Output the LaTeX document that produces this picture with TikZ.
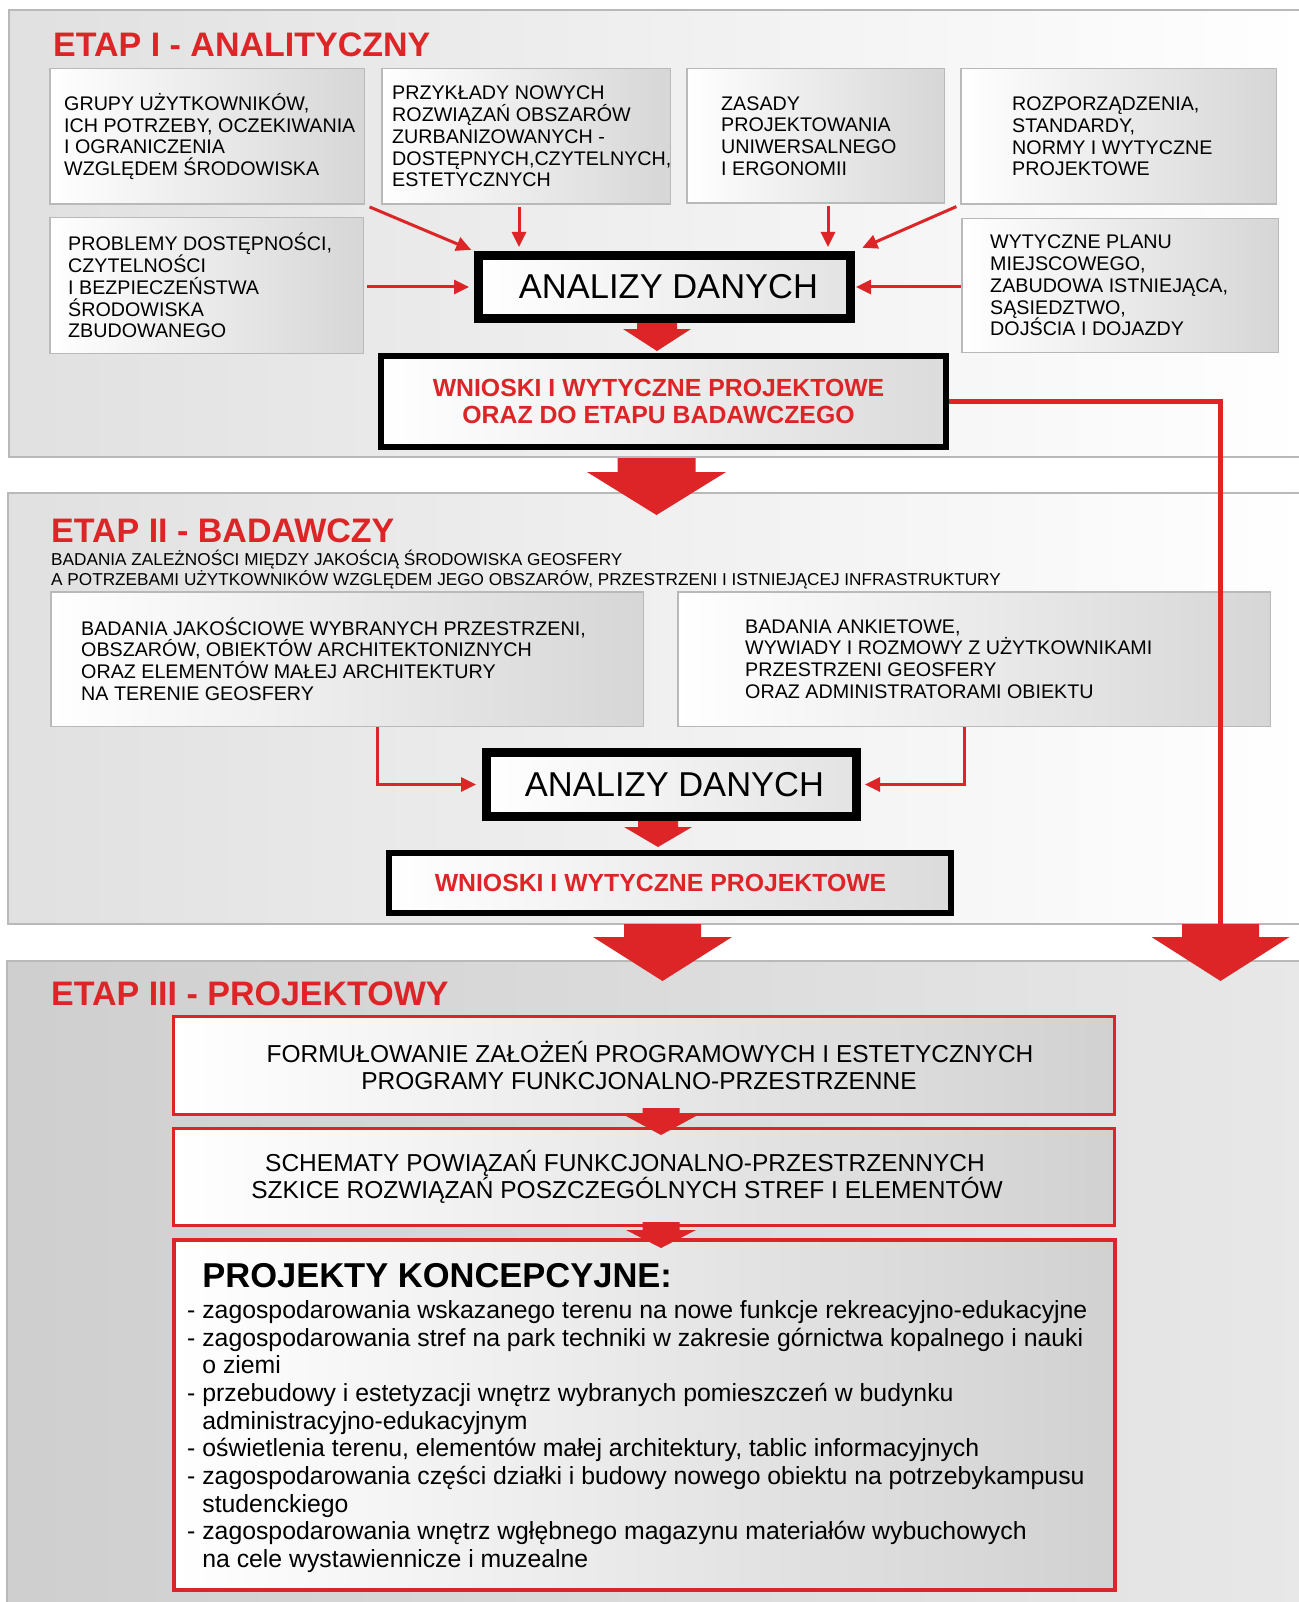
\documentclass[tikz,border=0pt]{standalone}
\usepackage{fontspec}
\setmainfont{Liberation Sans}
\usetikzlibrary{arrows.meta}
\definecolor{czerwien}{RGB}{221,36,38}
% block arrow: top centre, half shaft, half head, shaft length, head length
\newcommand{\grot}[5]{\fill[czerwien] #1 ++(-#2,0) -- ++(0,#4) -- ++(#2-#3,0) -- ++(#3,#5) -- ++(#3,-#5) -- ++(#2-#3,0) -- ++(0,-#4) -- cycle;}

\begin{document}
\begin{tikzpicture}[x=1pt,y=-1pt,
  panel/.style={draw=gray!55,line width=1.5pt,left color=gray!24,right color=white},
  zrodlo/.style={draw=gray!55,line width=1.5pt,left color=white,right color=gray!32,inner sep=0pt},
  opis/.style={anchor=west,align=left,inner sep=0pt,font=\fontsize{19.7}{21.8}\selectfont},
  analiza/.style={draw=black,line width=9pt,left color=white,right color=gray!22,inner sep=0pt,font=\fontsize{34.5}{40}\selectfont},
  wnioski/.style={draw=black,line width=6pt,left color=white,right color=gray!28,inner sep=0pt,text=czerwien,align=center,font=\fontsize{24.8}{27}\selectfont\bfseries},
  etap/.style={anchor=base west,inner sep=0pt,text=czerwien,font=\fontsize{34}{40}\selectfont\bfseries},
  projekt/.style={draw=czerwien,line width=3pt,left color=white,right color=gray!36,inner sep=0pt,align=center,font=\fontsize{24.5}{27}\selectfont},
  strzalka/.style={czerwien,line width=3pt,-{Triangle[length=15pt,width=14pt]}}
]

\useasboundingbox[fill=white] (0,0) rectangle (1298,1602);

\draw[panel] (9,10) rectangle (1310,457);
\draw[panel] (8,493) rectangle (1310,924);
\draw[panel,left color=gray!38,right color=gray!18] (7,961) rectangle (1310,1610);

% ETAP I
\node[etap] (etap1) at (53,57) {ETAP I - ANALITYCZNY};

\node[zrodlo,minimum width=314.5pt,minimum height=135.5pt] (grupy) at (207,136.5) {};
\node[opis] (grupy-t) at ([xshift=15pt]grupy.west) {GRUPY UŻYTKOWNIKÓW,\\ICH POTRZEBY, OCZEKIWANIA\\I OGRANICZENIA\\WZGLĘDEM ŚRODOWISKA};

\node[zrodlo,minimum width=288.5pt,minimum height=135.5pt] (przyklady) at (526,136.5) {};
\node[opis] (przyklady-t) at ([xshift=11pt]przyklady.west) {PRZYKŁADY NOWYCH\\ROZWIĄZAŃ OBSZARÓW\\ZURBANIZOWANYCH -\\DOSTĘPNYCH,CZYTELNYCH,\\ESTETYCZNYCH};

\node[zrodlo,minimum width=257.5pt,minimum height=134.5pt] (zasady) at (815.5,136) {};
\node[opis] (zasady-t) at ([xshift=35pt]zasady.west) {ZASADY\\PROJEKTOWANIA\\UNIWERSALNEGO\\I ERGONOMII};

\node[zrodlo,minimum width=315.5pt,minimum height=135.5pt] (normy) at (1118.5,136.5) {};
\node[opis] (normy-t) at ([xshift=52pt]normy.west) {ROZPORZĄDZENIA,\\STANDARDY,\\NORMY I WYTYCZNE\\PROJEKTOWE};

\node[zrodlo,minimum width=313.5pt,minimum height=135.5pt] (problemy) at (206.5,285.5) {};
\node[opis] (problemy-t) at ([xshift=19pt]problemy.west) {PROBLEMY DOSTĘPNOŚCI,\\CZYTELNOŚCI\\I BEZPIECZEŃSTWA\\ŚRODOWISKA\\ZBUDOWANEGO};

\node[zrodlo,minimum width=316.5pt,minimum height=133.5pt] (plan) at (1120,285.5) {};
\node[opis] (plan-t) at ([xshift=29pt]plan.west) {WYTYCZNE PLANU\\MIEJSCOWEGO,\\ZABUDOWA ISTNIEJĄCA,\\SĄSIEDZTWO,\\DOJŚCIA I DOJAZDY};

\node[analiza,minimum width=372pt,minimum height=63pt] (analiza1) at (664.5,287) {\hspace*{8pt}ANALIZY DANYCH};
\node[wnioski,minimum width=565pt,minimum height=91pt] (wnioski1) at (663.5,401.5) {\hspace*{-10pt}WNIOSKI I WYTYCZNE PROJEKTOWE\\\hspace*{-10pt}ORAZ DO ETAPU BADAWCZEGO};

% ETAP II
\node[etap] (etap2) at (51,542) {ETAP II - BADAWCZY};
\node[anchor=base west,inner sep=0pt,font=\fontsize{17.2}{20}\selectfont] (podtytul1) at (51,565) {BADANIA ZALEŻNOŚCI MIĘDZY JAKOŚCIĄ ŚRODOWISKA GEOSFERY};
\node[anchor=base west,inner sep=0pt,font=\fontsize{17.2}{20}\selectfont] (podtytul2) at (51,585) {A POTRZEBAMI UŻYTKOWNIKÓW WZGLĘDEM JEGO OBSZARÓW, PRZESTRZENI I ISTNIEJĄCEJ INFRASTRUKTURY};

\node[zrodlo,minimum width=592.5pt,minimum height=134.5pt] (jakosc) at (347,659) {};
\node[opis] (jakosc-t) at ([xshift=31pt]jakosc.west) {BADANIA JAKOŚCIOWE WYBRANYCH PRZESTRZENI,\\OBSZARÓW, OBIEKTÓW ARCHITEKTONIZNYCH\\ORAZ ELEMENTÓW MAŁEJ ARCHITEKTURY\\NA TERENIE GEOSFERY};

\node[zrodlo,minimum width=592.5pt,minimum height=134.5pt] (ankiety) at (974,659) {};
\node[opis] (ankiety-t) at ([xshift=68pt]ankiety.west) {BADANIA ANKIETOWE,\\WYWIADY I ROZMOWY Z UŻYTKOWNIKAMI\\PRZESTRZENI GEOSFERY\\ORAZ ADMINISTRATORAMI OBIEKTU};

\node[analiza,minimum width=370pt,minimum height=64pt] (analiza2) at (671.5,784.5) {\hspace*{6pt}ANALIZY DANYCH};
\node[wnioski,minimum width=562pt,minimum height=60pt] (wnioski2) at (670,883) {\hspace*{-19pt}WNIOSKI I WYTYCZNE PROJEKTOWE};

% ETAP III
\node[etap] (etap3) at (51,1005) {ETAP III - PROJEKTOWY};

\node[projekt,minimum width=941pt,minimum height=98pt] (zalozenia) at (644,1065.5) {\hspace*{12pt}FORMUŁOWANIE ZAŁOŻEŃ PROGRAMOWYCH I ESTETYCZNYCH\\\hspace*{-10pt}PROGRAMY FUNKCJONALNO-PRZESTRZENNE};
\node[projekt,minimum width=941pt,minimum height=97pt] (schematy) at (644,1177) {\hspace*{-38pt}SCHEMATY POWIĄZAŃ FUNKCJONALNO-PRZESTRZENNYCH\\\hspace*{-34pt}SZKICE ROZWIĄZAŃ POSZCZEGÓLNYCH STREF I ELEMENTÓW};
\node[projekt,line width=4pt,minimum width=941pt,minimum height=350pt] (koncepcje) at (644.5,1415) {};
\node[anchor=north west,align=left,inner sep=0pt,font=\fontsize{24.8}{27.7}\selectfont] (koncepcje-t) at (187,1263)
{\hphantom{- }{\fontsize{34.5}{27.7}\selectfont\bfseries PROJEKTY KONCEPCYJNE:}\\[3.3pt]
- zagospodarowania wskazanego terenu na nowe funkcje rekreacyjno-edukacyjne\\
- zagospodarowania stref na park techniki w zakresie górnictwa kopalnego i nauki\\
\hphantom{- }o ziemi\\
- przebudowy i estetyzacji wnętrz wybranych pomieszczeń w budynku\\
\hphantom{- }administracyjno-edukacyjnym\\
- oświetlenia terenu, elementów małej architektury, tablic informacyjnych\\
- zagospodarowania części działki i budowy nowego obiektu na potrzebykampusu\\
\hphantom{- }studenckiego\\
- zagospodarowania wnętrz wgłębnego magazynu materiałów wybuchowych\\
\hphantom{- }na cele wystawiennicze i muzealne};

% connectors
\coordinate (b1) at ([xshift=-7pt]przyklady.south);
\coordinate (d1) at ([xshift=12.5pt]zasady.south);
\draw[strzalka,shorten <=5pt,shorten >=3pt] (grupy.south east) -- (analiza1.north west);
\draw[strzalka,shorten <=2pt,shorten >=4pt] (b1) -- (b1 |- analiza1.north);
\draw[strzalka,shorten <=2pt,shorten >=4pt] (d1) -- (d1 |- analiza1.north);
\draw[strzalka,shorten <=4pt,shorten >=8pt] (normy.south west) -- (analiza1.north east);
\draw[strzalka,shorten <=3pt,shorten >=5pt] (problemy.east |- analiza1.west) -- (analiza1.west);
\draw[strzalka,shorten >=1pt] (plan.west |- analiza1.east) -- (analiza1.east);

\coordinate (l1) at ([xshift=30pt]jakosc.south);
\coordinate (r1) at ([xshift=-10pt]ankiety.south);
\draw[strzalka,shorten >=6pt] (l1) |- (analiza2.west);
\draw[strzalka,shorten >=4pt] (r1) |- (analiza2.east);

\coordinate (zjazd) at (1220.5,924);
\draw[czerwien,line width=5pt] (wnioski1.east) -| (zjazd);

% block arrows
\grot{(657,323)}{20}{34}{6}{22}
\grot{(656.5,458)}{39}{69.5}{14}{43}
\grot{(658,821)}{20}{34}{6}{20}
\grot{(662.5,924)}{38.5}{69.5}{13}{44}
\grot{(zjazd)}{38.5}{69}{13}{44}
\grot{(661,1108)}{18.5}{35}{8}{19}
\grot{(661,1222)}{18.5}{35}{8}{18}

\end{tikzpicture}
\end{document}
